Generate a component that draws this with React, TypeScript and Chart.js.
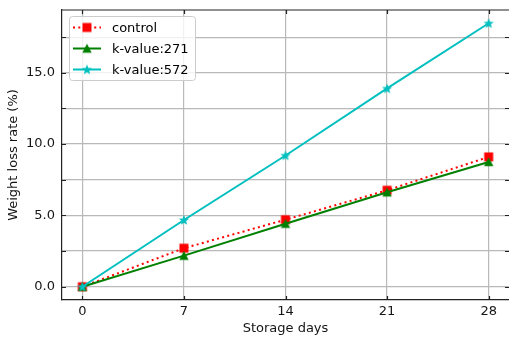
import React, { useEffect, useRef } from "react";
import { Chart, registerables } from "chart.js";

Chart.register(...registerables);

// Storage time (days) and weight loss rate (%) for each treatment
const days = [0, 7, 14, 21, 28];
const controlLoss = [0, 2.7, 4.7, 6.76, 9.1];
const k271Loss = [0, 2.18, 4.42, 6.62, 8.75];
const k572Loss = [0, 4.68, 9.2, 13.9, 18.47];

const seriesNames = ["control", "k-value:271", "k-value:572"];

// Axis ticks: y grid every 2.5, labels every 5
const xTickValues = [0, 7, 14, 21, 28];
const yTickValues = [0, 2.5, 5, 7.5, 10, 12.5, 15, 17.5];
const yLabelValues = [0, 5, 10, 15];

const RED = "#ff0000";
const GREEN = "#008000";
const CYAN = "#00bfbf";
const GRID = "#b9b9b9";
const AXIS = "#222222";
const TEXT = "#151515";
const FONT_FAMILY = "'DejaVu Sans', sans-serif";

type MarkerKind = "square" | "triangle" | "star";

function makeMarker(kind: MarkerKind, color: string): HTMLCanvasElement {
  const size = 12;
  const c = document.createElement("canvas");
  c.width = size;
  c.height = size;
  const ctx = c.getContext("2d")!;
  const cx = size / 2;
  const cy = size / 2;
  ctx.fillStyle = color;
  ctx.beginPath();
  if (kind === "square") {
    ctx.rect(cx - 4.5, cy - 4.5, 9, 9);
  } else if (kind === "triangle") {
    ctx.moveTo(cx, cy - 4.7);
    ctx.lineTo(cx + 4.7, cy + 4.2);
    ctx.lineTo(cx - 4.7, cy + 4.2);
    ctx.closePath();
  } else {
    const outer = 5.4;
    const inner = outer * 0.42;
    for (let i = 0; i < 10; i++) {
      const r = i % 2 === 0 ? outer : inner;
      const ang = -Math.PI / 2 + (i * Math.PI) / 5;
      const px = cx + r * Math.cos(ang);
      const py = cy + 0.4 + r * Math.sin(ang);
      if (i === 0) ctx.moveTo(px, py);
      else ctx.lineTo(px, py);
    }
    ctx.closePath();
  }
  ctx.fill();
  return c;
}

const clearPadding = (s: any) => {
  s.paddingLeft = 0;
  s.paddingRight = 0;
  s.paddingTop = 0;
  s.paddingBottom = 0;
};

export default function App() {
  const canvasRef = useRef<HTMLCanvasElement | null>(null);

  useEffect(() => {
    const canvas = canvasRef.current;
    if (!canvas) return;

    const squareImg = makeMarker("square", RED);
    const triangleImg = makeMarker("triangle", GREEN);
    const starImg = makeMarker("star", CYAN);

    const toPoints = (vals: number[]) => days.map((d, i) => ({ x: d, y: vals[i] }));

    const legendItems = [
      { label: seriesNames[0], color: RED, dash: [2, 3.3], marker: squareImg },
      { label: seriesNames[1], color: GREEN, dash: [] as number[], marker: triangleImg },
      { label: seriesNames[2], color: CYAN, dash: [] as number[], marker: starImg },
    ];

    const framePlugin = {
      id: "frame",
      beforeDatasetsDraw(chart: any) {
        const { ctx, chartArea: a, scales } = chart;
        ctx.save();
        ctx.strokeStyle = AXIS;
        ctx.lineWidth = 1.2;
        ctx.beginPath();
        ctx.moveTo(a.left, a.top);
        ctx.lineTo(a.right, a.top);
        const tl = 4;
        for (const v of xTickValues) {
          const px = Math.round(scales.x.getPixelForValue(v)) + 0.5;
          ctx.moveTo(px, a.bottom);
          ctx.lineTo(px, a.bottom - tl);
          ctx.moveTo(px, a.top);
          ctx.lineTo(px, a.top + tl);
        }
        for (const v of yTickValues) {
          const py = Math.round(scales.y.getPixelForValue(v)) + 0.5;
          ctx.moveTo(a.left, py);
          ctx.lineTo(a.left + tl, py);
          ctx.moveTo(a.right, py);
          ctx.lineTo(a.right - tl, py);
        }
        ctx.stroke();
        ctx.restore();
      },
      afterDraw(chart: any) {
        const { ctx } = chart;
        ctx.save();
        // legend frame
        const bx = 69.5;
        const by = 16.5;
        const bw = 126;
        const bh = 64;
        ctx.beginPath();
        ctx.roundRect(bx, by, bw, bh, 3);
        ctx.fillStyle = "rgba(255,255,255,0.8)";
        ctx.fill();
        ctx.strokeStyle = "#cccccc";
        ctx.lineWidth = 1;
        ctx.stroke();
        ctx.font = `13px ${FONT_FAMILY}`;
        ctx.textBaseline = "middle";
        ctx.textAlign = "left";
        legendItems.forEach((item, i) => {
          const ry = 27.5 + i * 21;
          ctx.beginPath();
          ctx.setLineDash(item.dash);
          ctx.strokeStyle = item.color;
          ctx.lineWidth = 2;
          ctx.moveTo(73, ry);
          ctx.lineTo(101, ry);
          ctx.stroke();
          ctx.setLineDash([]);
          ctx.drawImage(item.marker, 87 - item.marker.width / 2, ry - item.marker.height / 2);
          ctx.fillStyle = "#000000";
          ctx.fillText(item.label, 112, ry + 1);
        });
        ctx.restore();
      },
    };

    const tickFont = { family: FONT_FAMILY, size: 13 };

    const chart = new Chart(canvas, {
      type: "line",
      data: {
        datasets: [
          {
            label: seriesNames[0],
            data: toPoints(controlLoss),
            borderColor: RED,
            backgroundColor: RED,
            borderWidth: 2,
            borderDash: [2, 3.3],
            pointStyle: squareImg,
            pointRadius: 5,
            fill: false,
            tension: 0,
            order: 3,
          },
          {
            label: seriesNames[1],
            data: toPoints(k271Loss),
            borderColor: GREEN,
            backgroundColor: GREEN,
            borderWidth: 2,
            pointStyle: triangleImg,
            pointRadius: 5,
            fill: false,
            tension: 0,
            order: 2,
          },
          {
            label: seriesNames[2],
            data: toPoints(k572Loss),
            borderColor: CYAN,
            backgroundColor: CYAN,
            borderWidth: 2,
            pointStyle: starImg,
            pointRadius: 5,
            fill: false,
            tension: 0,
            order: 1,
          },
        ],
      },
      options: {
        responsive: false,
        animation: false,
        devicePixelRatio: 1,
        layout: { autoPadding: false, padding: { top: 10, left: 0, right: 0, bottom: 0 } },
        plugins: {
          legend: { display: false },
          tooltip: { enabled: false },
        },
        scales: {
          x: {
            type: "linear",
            min: -1.4,
            max: 29.4,
            afterBuildTicks: (s: any) => {
              s.ticks = xTickValues.map((v) => ({ value: v }));
            },
            afterFit: (s: any) => {
              s.height = 37;
              clearPadding(s);
            },
            grid: { color: GRID, lineWidth: 1.2, drawTicks: false },
            border: { display: true, color: AXIS, width: 1.2 },
            ticks: {
              color: TEXT,
              font: tickFont,
              padding: 4,
              maxRotation: 0,
              autoSkip: false,
              callback: (v: any) => String(v),
            },
            title: {
              display: true,
              text: "Storage days",
              color: TEXT,
              font: tickFont,
              padding: { top: 0, bottom: 1 },
            },
          },
          y: {
            type: "linear",
            min: -0.93,
            max: 19.4,
            afterBuildTicks: (s: any) => {
              s.ticks = yTickValues.map((v) => ({ value: v }));
            },
            afterFit: (s: any) => {
              s.width = 62;
              clearPadding(s);
            },
            grid: { color: GRID, lineWidth: 1.2, drawTicks: false },
            border: { display: true, color: AXIS, width: 1.2 },
            ticks: {
              color: TEXT,
              font: tickFont,
              padding: 7,
              autoSkip: false,
              callback: (v: any) => (yLabelValues.includes(Number(v)) ? Number(v).toFixed(1) : ""),
            },
            title: {
              display: true,
              text: "Weight loss rate (%)",
              color: TEXT,
              font: tickFont,
              padding: { top: 6, bottom: 0 },
            },
          },
        },
      },
      plugins: [framePlugin],
    } as any);

    return () => chart.destroy();
  }, []);

  return (
    <div style={{ position: "absolute", left: 0, top: 0, width: 509, height: 337, background: "#ffffff" }}>
      <canvas ref={canvasRef} width={509} height={337} style={{ display: "block" }} />
    </div>
  );
}
